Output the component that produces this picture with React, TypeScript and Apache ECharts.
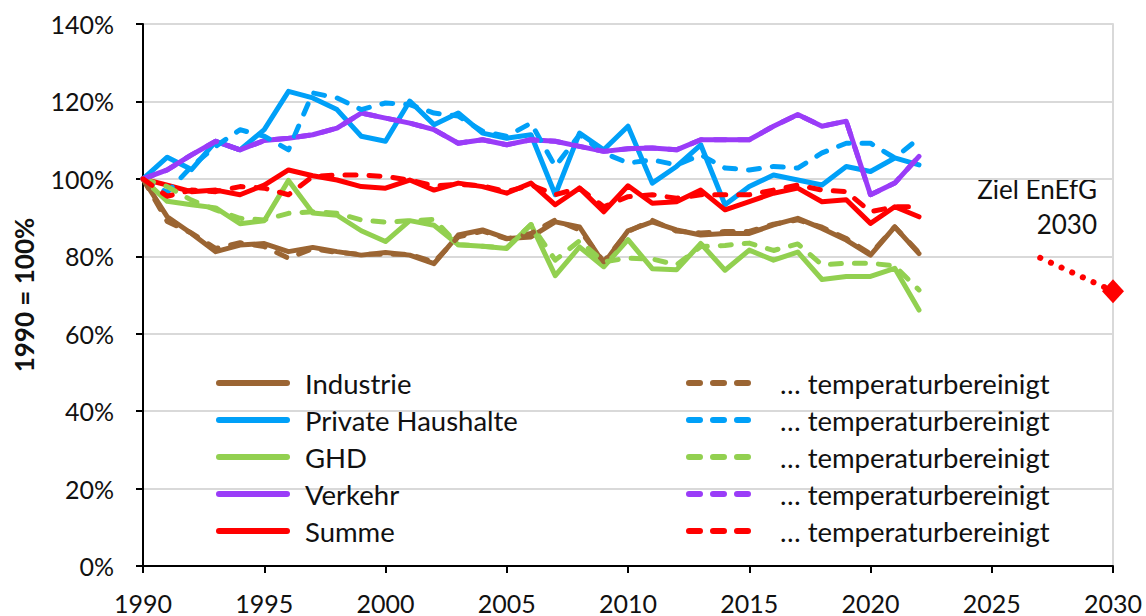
import React, { useEffect, useRef } from "react";
import * as echarts from "echarts";

// ---- Data (percent of 1990) ----
const years = [
  1990, 1991, 1992, 1993, 1994, 1995, 1996, 1997, 1998, 1999,
  2000, 2001, 2002, 2003, 2004, 2005, 2006, 2007, 2008, 2009,
  2010, 2011, 2012, 2013, 2014, 2015, 2016, 2017, 2018, 2019,
  2020, 2021, 2022,
];

const industrie = [
  100, 90.2, 85.9, 81.2, 82.9, 83.3, 81.2, 82.3, 81.2, 80.3,
  81.0, 80.3, 78.1, 85.5, 86.8, 84.6, 85.0, 88.9, 87.6, 78.1,
  86.6, 88.9, 86.8, 85.5, 85.9, 85.9, 88.1, 89.8, 87.2, 84.2,
  80.3, 87.6, 80.7,
];
const industrieTb = [
  100, 89.0, 86.0, 82.0, 83.5, 82.5, 79.5, 82.0, 81.0, 80.5,
  80.5, 80.5, 78.5, 85.0, 86.5, 84.5, 85.9, 89.4, 86.8, 78.6,
  86.4, 89.3, 86.5, 86.0, 86.4, 86.4, 88.3, 89.4, 87.5, 84.6,
  80.6, 87.6, 80.9,
];

const haushalte = [
  100, 105.6, 102.4, 109.7, 107.5, 112.7, 122.6, 120.9, 117.9, 111.0,
  109.7, 120.1, 114.0, 117.0, 111.8, 110.5, 111.4, 95.9, 111.8, 107.5,
  113.6, 98.9, 103.2, 108.8, 93.3, 98.0, 101.0, 99.7, 98.4, 103.2,
  101.9, 105.4, 103.6,
];
const haushalteTb = [
  100, 96.5, 103.2, 108.4, 112.7, 111.0, 107.5, 122.2, 120.9, 117.9,
  119.6, 119.2, 117.0, 116.2, 112.3, 111.0, 114.4, 103.2, 111.4, 106.7,
  104.1, 104.9, 103.6, 106.2, 102.8, 102.3, 103.2, 102.8, 106.7, 109.2,
  109.2, 105.4, 110.5,
];

const ghd = [
  100, 94.2, 93.3, 92.5, 88.4, 89.2, 99.6, 91.2, 90.6, 86.6,
  83.8, 89.2, 88.0, 83.0, 82.6, 82.0, 88.2, 75.0, 82.4, 77.3,
  84.3, 76.8, 76.5, 83.3, 76.4, 81.6, 79.0, 81.1, 74.0, 74.8,
  74.8, 76.9, 66.1,
];
const ghdTb = [
  100, 98.0, 94.5, 92.0, 89.8, 89.4, 91.1, 91.5, 91.1, 89.4,
  88.8, 89.2, 89.5, 83.0, 82.6, 82.2, 88.2, 79.0, 84.0, 78.6,
  79.5, 79.3, 77.8, 82.5, 82.8, 83.4, 81.5, 83.2, 77.8, 78.2,
  78.2, 77.5, 71.3,
];

const verkehr = [
  100, 102.3, 106.2, 109.7, 107.5, 109.9, 110.5, 111.4, 113.1, 117.0,
  115.7, 114.4, 112.7, 109.2, 110.1, 108.8, 110.1, 109.7, 108.4, 107.1,
  107.8, 108.0, 107.5, 110.1, 110.1, 110.1, 113.6, 116.6, 113.6, 114.9,
  95.9, 98.9, 105.8,
];
const verkehrTb = [
  100, 102.3, 106.2, 109.7, 107.5, 109.9, 110.5, 111.4, 113.1, 117.0,
  115.7, 114.4, 112.7, 109.2, 110.1, 108.8, 110.1, 109.7, 108.4, 107.1,
  107.8, 108.0, 107.5, 110.1, 110.1, 110.1, 113.6, 116.6, 113.6, 114.9,
  95.9, 98.9, 105.8,
];

const summe = [
  100, 98.4, 96.7, 97.1, 95.9, 98.4, 102.3, 100.8, 99.7, 98.0,
  97.6, 99.7, 97.1, 98.9, 98.0, 96.3, 98.9, 93.3, 97.6, 91.5,
  98.2, 93.7, 94.1, 97.1, 92.0, 94.1, 96.3, 97.6, 94.1, 94.6,
  88.5, 92.8, 90.2,
];
const summeTb = [
  100, 95.5, 97.1, 96.7, 98.0, 97.6, 95.9, 100.6, 101.0, 101.0,
  100.6, 99.7, 98.2, 98.6, 98.2, 96.7, 98.4, 95.9, 97.6, 92.8,
  95.4, 95.9, 95.0, 95.9, 95.9, 95.9, 97.1, 98.4, 97.1, 96.7,
  91.5, 92.8, 92.8,
];

const zielYears = [2027, 2030];
const zielValues = [79.6, 71.0];
const zielLabel = ["Ziel EnEfG", "2030"];

const solidNames = ["Industrie", "Private Haushalte", "GHD", "Verkehr", "Summe"];
const tbLabel = "… temperaturbereinigt";
const yAxisName = "1990 = 100%";

// ---- Styles ----
const COLORS = ["#9B6533", "#00A0F8", "#92D050", "#9A3CF8", "#FF0000"];
const FONT = "Lato, 'Noto Sans', sans-serif";
const TEXT = "#111";

const solidData = [industrie, haushalte, ghd, verkehr, summe];
const tbData = [industrieTb, haushalteTb, ghdTb, verkehrTb, summeTb];

function pairs(vals: number[]) {
  return vals.map((v, i) => [years[i], v]);
}

export default function App() {
  const ref = useRef<HTMLDivElement>(null);

  useEffect(() => {
    const chart = echarts.init(ref.current!, null, { renderer: "svg" });

    const tbNames = solidNames.map((n) => n + " (temperaturbereinigt)");

    const solidSeries = solidNames.map((name, i) => ({
      name,
      type: "line",
      data: pairs(solidData[i]),
      symbol: "none",
      showSymbol: false,
      color: COLORS[i],
      lineStyle: { width: 5, color: COLORS[i], cap: "round", join: "round" },
      z: 3,
    }));
    const tbSeries = tbNames.map((name, i) => ({
      name,
      type: "line",
      data: pairs(tbData[i]),
      symbol: "none",
      showSymbol: false,
      color: COLORS[i],
      lineStyle: { width: 5, color: COLORS[i], type: [11, 13], cap: "round", join: "round" },
      z: 3,
    }));

    const zielSeries = {
      name: "Ziel",
      type: "line",
      data: [
        { value: [zielYears[0], zielValues[0]], symbol: "none" },
        { value: [zielYears[1], zielValues[1]], symbol: "diamond", symbolSize: [22, 24] },
      ],
      showAllSymbol: true,
      color: "#FF0000",
      itemStyle: { color: "#FF0000" },
      lineStyle: { width: 6, color: "#FF0000", type: [0.1, 11.6], cap: "round" },
      z: 4,
    };

    const legendText = (pad: number) => ({
      fontFamily: FONT,
      fontSize: 27.5,
      color: TEXT,
      lineHeight: 30,
      padding: [0, 0, 0, pad],
    });

    const option: any = {
      animation: false,
      backgroundColor: "#ffffff",
      textStyle: { fontFamily: FONT },
      grid: { left: 143, right: 33, top: 24, bottom: 50, containLabel: false },
      xAxis: {
        type: "value",
        min: 1990,
        max: 2030,
        interval: 5,
        axisLine: { show: true, lineStyle: { color: "#000", width: 2 } },
        axisTick: { show: true, length: 7, inside: false, lineStyle: { color: "#000", width: 2 } },
        axisLabel: {
          fontFamily: FONT,
          fontSize: 25,
          color: TEXT,
          margin: 24,
          formatter: (v: number) => String(v),
        },
        splitLine: { show: false },
      },
      yAxis: [
        {
          type: "value",
          min: 0,
          max: 140,
          interval: 20,
          name: yAxisName,
          nameLocation: "middle",
          nameRotate: 90,
          nameGap: 106,
          nameTextStyle: { fontFamily: FONT, fontSize: 26, fontWeight: "bold", color: TEXT },
          axisLine: { show: true, lineStyle: { color: "#000", width: 2 } },
          axisTick: { show: true, length: 7, inside: false, lineStyle: { color: "#000", width: 2 } },
          axisLabel: {
            fontFamily: FONT,
            fontSize: 25,
            color: TEXT,
            margin: 29,
            formatter: "{value}%",
          },
          splitLine: { show: true, lineStyle: { color: "#D9D9D9", width: 2 } },
        },
        {
          type: "value",
          min: 0,
          max: 140,
          interval: 20,
          position: "right",
          axisLine: { show: true, lineStyle: { color: "#D9D9D9", width: 2 } },
          axisTick: { show: false },
          axisLabel: { show: false },
          splitLine: { show: false },
        },
      ],
      legend: [
        {
          data: solidNames,
          orient: "vertical",
          left: 216,
          top: 368,
          padding: 0,
          itemWidth: 68,
          itemHeight: 14,
          itemGap: 7,
          selectedMode: false,
          itemStyle: { opacity: 0 },
          lineStyle: { width: 6, cap: "round" },
          textStyle: legendText(13),
        },
        {
          data: tbNames,
          orient: "vertical",
          left: 686,
          top: 368,
          padding: 0,
          itemWidth: 59,
          itemHeight: 14,
          itemGap: 7,
          selectedMode: false,
          itemStyle: { opacity: 0 },
          lineStyle: { width: 6, cap: "round" },
          formatter: () => tbLabel,
          textStyle: legendText(27),
        },
      ],
      graphic: [
        {
          type: "text",
          right: 1146 - 1097,
          top: 176,
          style: {
            text: zielLabel[0],
            fontFamily: FONT,
            fontSize: 26,
            fill: TEXT,
          },
        },
        {
          type: "text",
          right: 1146 - 1097,
          top: 211,
          style: {
            text: zielLabel[1],
            fontFamily: FONT,
            fontSize: 26,
            fill: TEXT,
          },
        },
      ],
      series: [...solidSeries, ...tbSeries, zielSeries],
    };

    chart.setOption(option);
    return () => chart.dispose();
  }, []);

  return (
    <div
      ref={ref}
      style={{ position: "absolute", left: 0, top: 0, width: 1146, height: 616, background: "#fff" }}
    />
  );
}
